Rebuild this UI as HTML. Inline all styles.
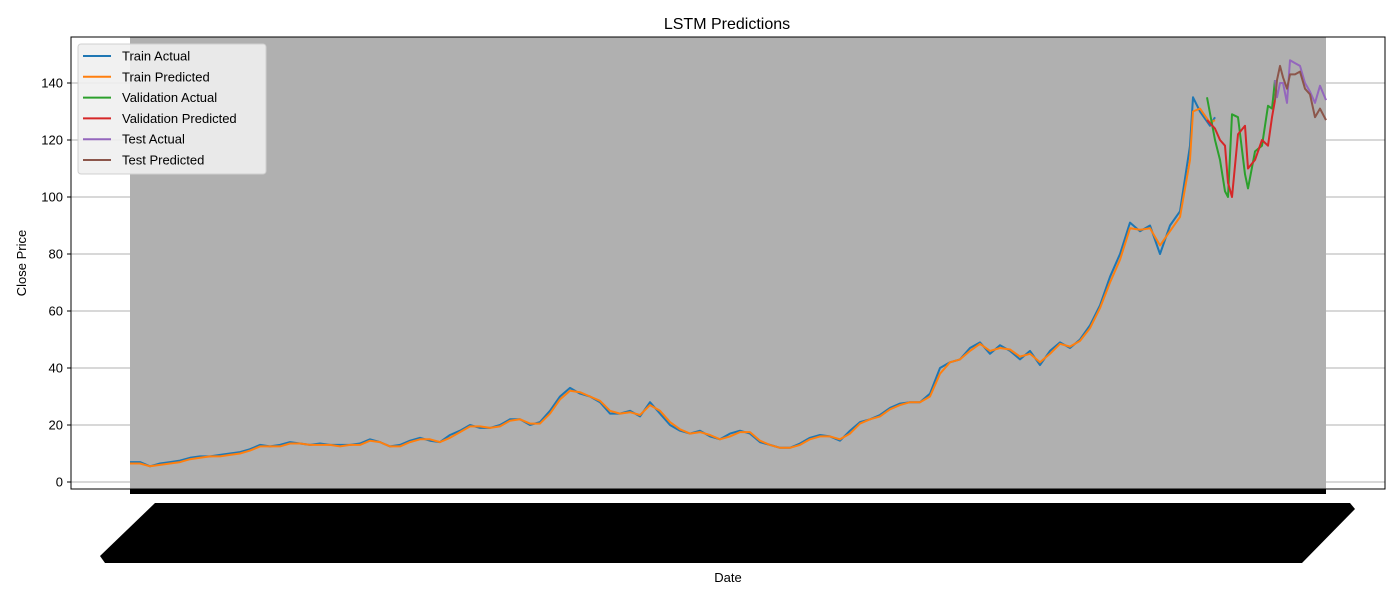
<!DOCTYPE html>
<html><head><meta charset="utf-8">
<style>
body{margin:0;background:#fff;}
svg{display:block;font-family:"Liberation Sans","DejaVu Sans",sans-serif;}
</style></head>
<body>
<svg id="chart" width="1400" height="600" viewBox="0 0 1400 600">
<rect x="0" y="0" width="1400" height="600" fill="#fff"/>
<g id="grid"></g>
<rect x="130" y="37" width="1196" height="452" fill="#b0b0b0"/>
<g id="series"></g>
<rect x="71" y="37" width="1314" height="452" fill="none" stroke="#000" stroke-width="1"/>
<rect x="130" y="489" width="1196" height="5" fill="#000"/>
<polygon points="155,503 1350,503 1355,509 1302,563 105,563 100,556" fill="#000"/>
<g id="yaxis"></g>
<text x="727" y="29" font-size="16" text-anchor="middle">LSTM Predictions</text>
<text x="728" y="582" font-size="13" text-anchor="middle">Date</text>
<text transform="translate(26,263) rotate(-90)" font-size="13" text-anchor="middle">Close Price</text>
<g id="legend"></g>
</svg>
<script>
const trainDays=[0,10,20,30,40,50,60,70,80,90,100,110,120,130,140,150,160,170,180,190,200,210,220,230,240,250,260,270,280,290,300,310,320,330,340,350,360,370,380,390,400,410,420,430,440,450,460,470,480,490,500,510,520,530,540,550,560,570,580,590,600,610,620,630,640,650,660,670,680,690,700,710,720,730,740,750,760,770,780,790,800,810,820,830,840,850,860,870,880,890,900,910,920,930,940,950,960,970,980,990,1000,1010,1020,1030,1040,1050,1060,1063,1070,1080,1085];
const trainActual=[7,7,5.5,6.5,7,7.5,8.5,9,9,9.5,10,10.5,11.5,13,12.5,13,14,13.5,13,13.5,13,13,13,13.5,15,14,12.5,13,14.5,15.5,14.5,14,16.5,18,20,19,19,20,22,22,20,21,25,30,33,31,30,28,24,24,25,23,28,24,20,18,17,18,16,15,17,18,17,14,13,12,12,13.5,15.5,16.5,16,14.5,18,21,22,23.5,26,27.5,28,28,31,40,42,43,47,49,45,48,46,43,46,41,46,49,47,50,55,62,72,80,91,88,90,80,90,95,118,135,130,125,128];
const trainPred=[6.5,6.5,5.5,6,6.5,7,8,8.5,9,9,9.5,10,11,12.5,12.5,12.5,13.5,13.5,13,13,13,12.5,13,13,14.5,14,12.5,12.5,14,15,15,14,15.5,17.5,19.5,19.5,19,19.5,21.5,22,20.5,20.5,24,29,32,31.5,30,28.5,25,24,24.5,23.5,27,25,21,18.5,17,17.5,16.5,15,16,17.5,17.5,14.5,13,12,12,13,15,16,16,15,17,20.5,22,23,25.5,27,28,28,30,38,42,43,46,48.5,46,47,46.5,44,45,42,45,48.5,47.5,49.5,54,61,70,78,89,88.5,89,83,88,93,113,130,131,126,127];
const valDays=[1077,1085,1090,1095,1098,1102,1108,1115,1118,1125,1132,1138,1142,1145];
const valActual=[135,120,113,102,100,129,128,108,103,116,118,132,131,141];
const valPred=[127,124,120,118,105,100,122,125,110,113,120,118,128,134];
const testDays=[1145,1147,1150,1153,1157,1160,1165,1170,1175,1180,1185,1190,1196];
const testActual=[141,135,140,140,133,148,147,146,140,137,133,139,134];
const testPred=[134,141,146,142,138,143,143,144,138,136,128,131,127];
const yTicks=[0,20,40,60,80,100,120,140];
const legendLabels=["Train Actual","Train Predicted","Validation Actual","Validation Predicted","Test Actual","Test Predicted"];
const colors=["#1f77b4","#ff7f0e","#2ca02c","#d62728","#9467bd","#8c564b"];

const NS="http://www.w3.org/2000/svg";
const xS=d=>130+d*(1196/1196);
const yS=v=>482-v*2.85;
function mk(tag,attrs,parent){const e=document.createElementNS(NS,tag);for(const k in attrs)e.setAttribute(k,attrs[k]);parent.appendChild(e);return e;}

const grid=document.getElementById('grid'),yaxis=document.getElementById('yaxis');
yTicks.forEach(t=>{
  const l=mk('line',{x1:71,x2:1385,y1:yS(t),y2:yS(t),stroke:'#b0b0b0','stroke-width':1},grid);
  
  
  const tk=mk('line',{x1:67,x2:71,y1:yS(t),y2:yS(t),stroke:'#000'},yaxis);
  
  
  const tx=mk('text',{x:63,y:yS(t)+4.5,'font-size':13,'text-anchor':'end'},yaxis);
  tx.textContent=t;
  
  
});

const ser=document.getElementById('series');
const all=[[trainDays,trainActual,'train-actual-line'],[trainDays,trainPred,'train-predicted-line'],[valDays,valActual,'validation-actual-line'],[valDays,valPred,'validation-predicted-line'],[testDays,testActual,'test-actual-line'],[testDays,testPred,'test-predicted-line']];
all.forEach((s,i)=>{
  const pts=s[0].map((d,j)=>xS(d).toFixed(1)+','+yS(s[1][j]).toFixed(1)).join(' ');
  const p=mk('polyline',{points:pts,fill:'none',stroke:colors[i],'stroke-width':2,'stroke-linejoin':'round'},ser);
  
  
});

const lg=document.getElementById('legend');
const box=mk('rect',{x:78,y:44,width:188,height:130,rx:3,fill:'#f0f0f0','fill-opacity':0.9,stroke:'#d0d0d0'},lg);


legendLabels.forEach((lab,i)=>{
  const y=56+i*20.8;
  const l=mk('line',{x1:83,x2:111,y1:y,y2:y,stroke:colors[i],'stroke-width':2},lg);
  
  
  const t=mk('text',{x:122,y:y+4.5,'font-size':13},lg);
  t.textContent=lab;
  
  
});
</script>
</body></html>
